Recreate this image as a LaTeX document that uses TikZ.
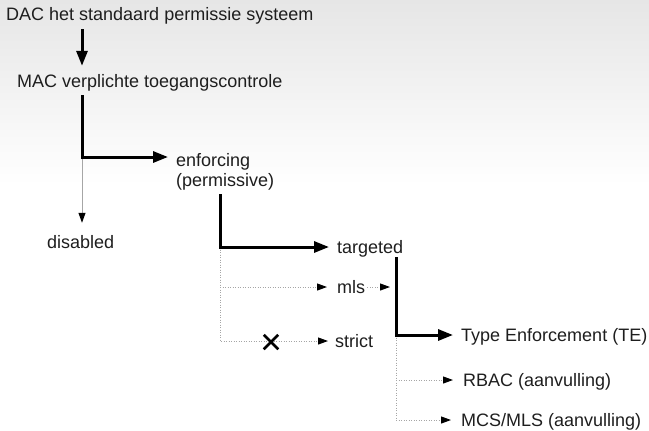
\documentclass[tikz,border=0pt]{standalone}
\usepackage{fontspec}
\setmainfont{Liberation Sans}
\usetikzlibrary{arrows.meta,shapes.misc}
\definecolor{txt}{HTML}{1E1E1E}
\definecolor{bgtop}{HTML}{E6E6E6}
\begin{document}
\begin{tikzpicture}[x=1bp,y=-1bp,
    lbl/.style={anchor=base west,inner sep=0pt,text height=13bp,text depth=1bp,
      text=txt,font=\fontsize{18bp}{20bp}\selectfont},
    main/.style={line width=3bp,-{Triangle[length=15bp,width=11bp]},shorten >=8bp},
    side/.style={line width=1bp,gray!70,-{Triangle[length=10bp,width=7bp,color=black]},shorten >=10bp},
    opt/.style={side,dash pattern=on 1bp off 1.5bp},
    xmark/.style={cross out,draw=black,line width=2.5bp,minimum size=12bp,inner sep=0pt},]
  \useasboundingbox (0,0) rectangle (649,430);
  \shade[top color=bgtop,bottom color=white] (0,0) rectangle (649,185);
  \node[lbl] (dac) at (6,20) {DAC het standaard permissie systeem};
  \node[lbl] (mac) at (17,87) {MAC verplichte toegangscontrole};
  \node[lbl,align=left,text height=,text depth=,anchor=north west] (enf) at (176,153) {enforcing\\(permissive)};
  \node[lbl] (dis) at (47,248) {disabled};
  \node[lbl] (tgt) at (337,253) {targeted};
  \node[lbl] (mls) at (337,293) {mls};
  \node[lbl] (str) at (335,347) {strict};
  \node[lbl] (te) at (461,341) {Type Enforcement (TE)};
  \node[lbl] (rbac) at (463,386) {RBAC (aanvulling)};
  \node[lbl] (mcs) at (461,426) {MCS/MLS (aanvulling)};
  \coordinate (k1) at (82,157);
  \coordinate (k2) at (220,247);
  \coordinate (k3) at (396,335);
  \draw[main,shorten <=8bp] (dac.south -| k1) -- (mac.north -| k1);
  \draw[side,shorten >=12bp] (k1) -- (dis.north -| k1);
  \draw[main,shorten <=7bp] (mac.south -| k1) |- (enf.west |- k1);
  \draw[opt] (k2) |- (mls.west);
  \draw[opt,shorten >=7bp] (k2) |- (str.west);
  \node[xmark] (x) at (271,342) {};
  \draw[main,shorten <=4bp] (enf.south -| k2) |- (tgt.west);
  \draw[opt,shorten <=2bp,shorten >=6bp] (mls.east) -- (mls.east -| k3);
  \draw[opt] (k3) |- (rbac.west);
  \draw[opt] (k3) |- (mcs.west);
  \draw[main,shorten <=3bp] (tgt.south -| k3) |- (te.west);
\end{tikzpicture}
\end{document}
